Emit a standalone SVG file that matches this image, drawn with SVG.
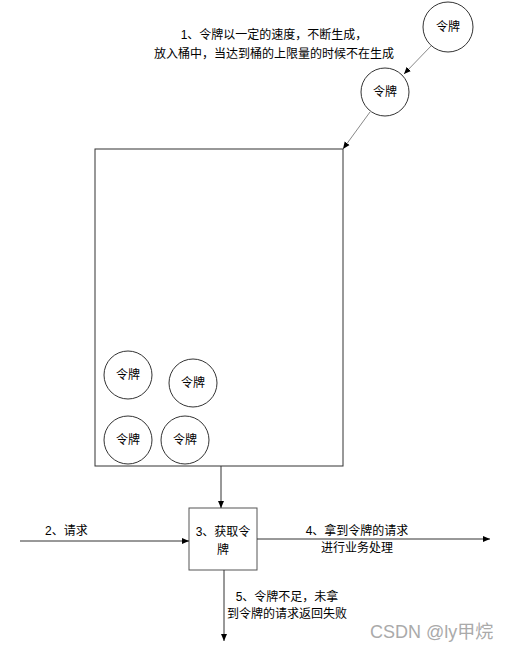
<svg xmlns="http://www.w3.org/2000/svg" width="509" height="650" viewBox="0 0 509 650">
<style>
text{font-family:"Liberation Sans","Noto Sans CJK SC",sans-serif;font-size:12px;fill:#000}
.c{fill:#fff;stroke:#333;stroke-width:1}
.ln{stroke:#333;stroke-width:1;fill:none;marker-end:url(#ah)}
.ln2{stroke:#888;stroke-width:1;fill:none;marker-end:url(#ah)}
</style>
<defs>
<marker id="ah" markerWidth="8" markerHeight="8" refX="7" refY="4" orient="auto" markerUnits="userSpaceOnUse">
<path d="M0,1 L7,4 L0,7 z" fill="#000"/>
</marker>
</defs>
<rect width="509" height="650" fill="#fff"/>
<g id="label1" text-anchor="middle">
<text x="274" y="39">1、令牌以一定的速度，不断生成，</text>
<text x="274" y="58">放入桶中，当达到桶的上限量的时候不在生成</text>
</g>
<g id="token-top"><circle class="c" cx="448" cy="27" r="25"/><text x="448" y="31" text-anchor="middle">令牌</text></g>
<g id="token-mid"><circle class="c" cx="385" cy="92" r="24"/><text x="385" y="96" text-anchor="middle">令牌</text></g>
<g id="bucket"><rect x="95" y="149" width="248" height="317" fill="none" stroke="#333" stroke-width="1"/></g>
<g id="t1"><circle class="c" cx="128" cy="375" r="24"/><text x="128" y="379" text-anchor="middle">令牌</text></g>
<g id="t2"><circle class="c" cx="193" cy="383" r="24"/><text x="193" y="387" text-anchor="middle">令牌</text></g>
<g id="t3"><circle class="c" cx="128" cy="440" r="24"/><text x="128" y="444" text-anchor="middle">令牌</text></g>
<g id="t4"><circle class="c" cx="185" cy="440" r="24"/><text x="185" y="444" text-anchor="middle">令牌</text></g>
<g id="getbox"><rect x="189" y="508" width="68" height="62" fill="#fff" stroke="#555" stroke-width="1"/>
<text x="223" y="536" text-anchor="middle">3、获取令</text><text x="223" y="554" text-anchor="middle">牌</text></g>
<g id="connectors">
<line class="ln2" x1="431" y1="46" x2="404" y2="74"/>
<line class="ln2" x1="370" y1="112" x2="343" y2="149"/>
<line class="ln" x1="221" y1="466" x2="221" y2="508"/>
<line class="ln" x1="20" y1="541" x2="189" y2="541"/>
<line class="ln" x1="257" y1="539" x2="490" y2="539"/>
<line class="ln" x1="224" y1="570" x2="224" y2="641"/>
</g>
<g id="labels">
<text x="45" y="535">2、请求</text>
<text x="357" y="535" text-anchor="middle">4、拿到令牌的请求</text>
<text x="357" y="552" text-anchor="middle">进行业务处理</text>
<text x="287" y="601" text-anchor="middle">5、令牌不足，未拿</text>
<text x="287" y="618" text-anchor="middle">到令牌的请求返回失败</text>
</g>
<text x="370" y="638" style="font-size:18px;fill:#aaa">CSDN @ly甲烷</text>
</svg>
